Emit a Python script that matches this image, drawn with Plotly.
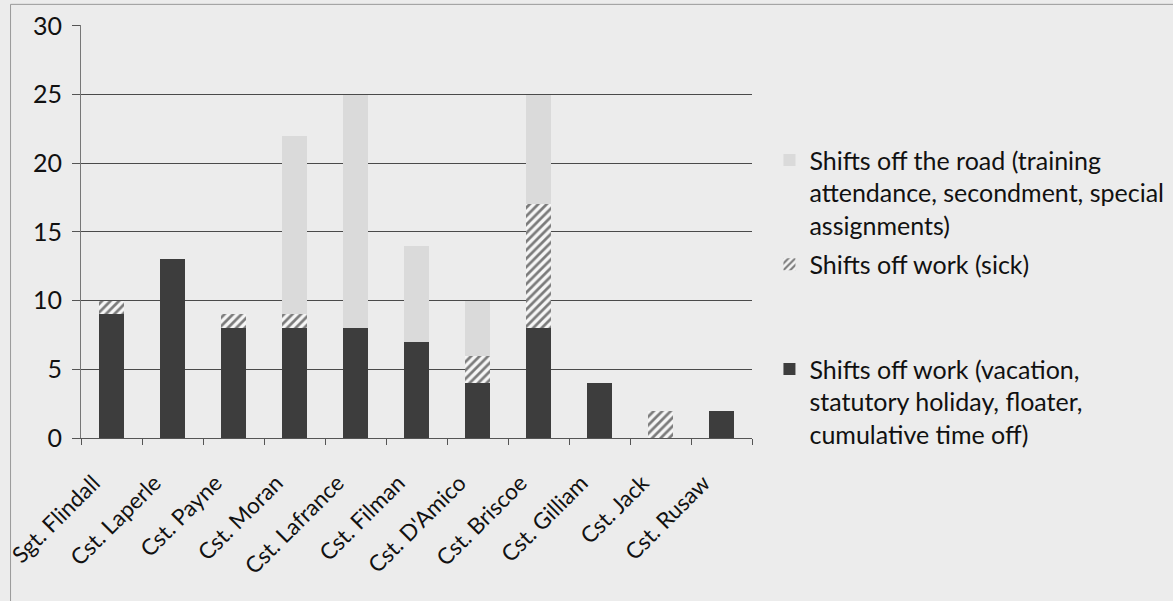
import plotly.graph_objects as go

categories = ["Sgt. Flindall", "Cst. Laperle", "Cst. Payne", "Cst. Moran", "Cst. Lafrance",
              "Cst. Filman", "Cst. D'Amico", "Cst. Briscoe", "Cst. Gilliam", "Cst. Jack", "Cst. Rusaw"]
vacation = [9, 13, 8, 8, 8, 7, 4, 8, 4, 0, 2]
sick = [1, 0, 1, 1, 0, 0, 2, 9, 0, 2, 0]
road = [0, 0, 0, 13, 17, 7, 4, 8, 0, 0, 0]

name_vac = "Shifts off work (vacation,<br>statutory holiday, floater,<br>cumulative time off)"
name_sick = "Shifts off work (sick)"
name_road = "Shifts off the road (training<br>attendance, secondment, special<br>assignments)"

FONT = "Lato"
BG = "#ececec"

fig = go.Figure()
fig.add_trace(go.Bar(x=categories, y=vacation, name=name_vac,
                     marker=dict(color="#3d3d3d", line=dict(width=0)), legend="legend3"))
fig.add_trace(go.Bar(x=categories, y=sick, name=name_sick,
                     marker=dict(color="#f6f6f6", line=dict(width=0),
                                 pattern=dict(shape="/", fgcolor="#000000", bgcolor="#f6f6f6",
                                              size=6, solidity=0.45, fillmode="overlay")),
                     legend="legend2"))
fig.add_trace(go.Bar(x=categories, y=road, name=name_road,
                     marker=dict(color="#dadada", line=dict(width=0)), legend="legend"))

legend_common = dict(font=dict(family=FONT, size=25, color="#111"), bgcolor="rgba(0,0,0,0)",
                     xanchor="left", yanchor="top", itemwidth=30, itemsizing="constant",
                     valign="top")
fig.update_layout(
    barmode="stack",
    bargap=0.59,
    width=1173, height=601,
    showlegend=True,
    paper_bgcolor=BG, plot_bgcolor=BG,
    margin=dict(l=81, r=421, t=25, b=163, autoexpand=False),
    font=dict(family=FONT, size=20, color="#111"),
    legend=dict(x=1.026, y=0.728, **legend_common),
    legend2=dict(x=1.026, y=0.476, **legend_common),
    legend3=dict(x=1.026, y=0.222, **legend_common),
    xaxis=dict(type="category", tickangle=-45, tickson="boundaries", ticks="outside",
               ticklen=6, tickcolor="#555", showline=True, linecolor="#555", linewidth=1,
               ticklabelstandoff=22, ticklabelshift=-18, automargin=False,
               tickfont=dict(family=FONT, size=22.5, color="#111")),
    yaxis=dict(range=[0, 30.06], tickvals=[0, 5, 10, 15, 20, 25, 30], showgrid=True,
               gridcolor="#4a4a4a", gridwidth=1, automargin=False,
               showline=True, linecolor="#777", linewidth=1, ticks="outside", ticklen=8,
               tickcolor="#555", zeroline=False, ticklabelstandoff=5,
               tickfont=dict(family=FONT, size=25, color="#111")),
    shapes=[dict(type="rect", xref="paper", yref="paper", x0=-0.105, x1=1.75, y0=-0.5, y1=1.05,
                 line=dict(color="#999", width=1), fillcolor="rgba(0,0,0,0)", layer="below")],
)

fig.write_html("out.html")
